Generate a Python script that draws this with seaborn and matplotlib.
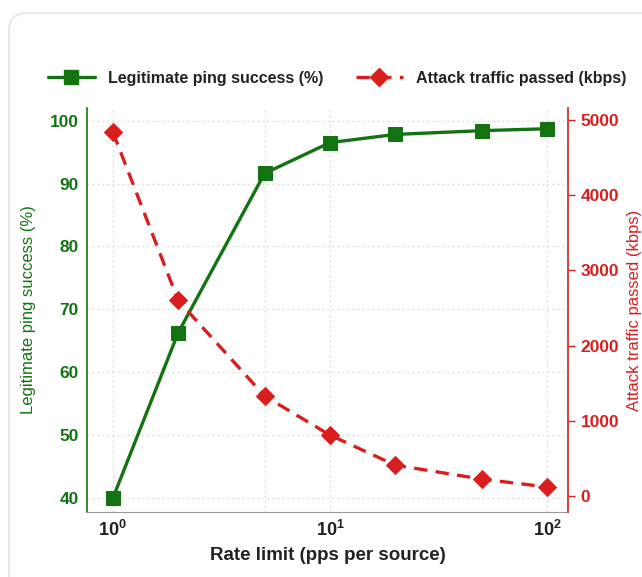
import pandas as pd
import numpy as np
import seaborn as sns
import matplotlib.pyplot as plt
from matplotlib.patches import FancyBboxPatch
from matplotlib.lines import Line2D
from matplotlib.ticker import FuncFormatter

# rate limit sweep
rate = [1, 2, 5, 10, 20, 50, 100]
ping_ok = [40.0, 66.3, 91.6, 96.5, 97.8, 98.4, 98.7]
attack_kbps = [4840, 2600, 1330, 810, 410, 225, 120]

df = pd.DataFrame({'rate': rate, 'ping': ping_ok, 'attack': attack_kbps})

GREEN = '#137313'
RED = '#d91e1e'

sns.set_style('white')
plt.rcParams['font.family'] = ['Liberation Sans', 'DejaVu Sans']
plt.rcParams['mathtext.fontset'] = 'custom'
plt.rcParams['mathtext.rm'] = 'Liberation Sans:bold'
plt.rcParams['mathtext.bf'] = 'Liberation Sans:bold'

fig = plt.figure(figsize=(6.42, 5.77), dpi=100)
card = FancyBboxPatch((9 / 642, -0.05), 1.1, 1.05 - 13 / 577,
                      boxstyle='round,pad=0,rounding_size=0.03',
                      transform=fig.transFigure, facecolor='white',
                      edgecolor='#e4e4e4', linewidth=1.2, zorder=-10)
fig.patches.append(card)

ax = fig.add_axes([87 / 642, 65 / 577, (568 - 87) / 642, (512 - 108) / 577])
ax.patch.set_alpha(0)
ax2 = ax.twinx()

sns.lineplot(data=df, x='rate', y='ping', ax=ax, color=GREEN, lw=2.4,
             marker='s', markersize=10, markeredgecolor=GREEN, zorder=3)
sns.lineplot(data=df, x='rate', y='attack', ax=ax2, color=RED, lw=2.4,
             ls=(0, (4, 2.5)), marker='D', markersize=9, markeredgecolor=RED, zorder=3)

ax.set_xscale('log')
ax.set_xlim(0.76, 125)
ax.set_ylim(37.8, 102)
ax2.set_ylim(-213, 5160)
ax.set_yticks([40, 50, 60, 70, 80, 90, 100])
ax2.set_yticks([0, 1000, 2000, 3000, 4000, 5000])
ax.set_xticks([1, 10, 100])
ax.xaxis.set_major_formatter(FuncFormatter(lambda v, p: r'$\mathbf{10^{%d}}$' % round(np.log10(v))))
ax.set_xticks([5], minor=True)
ax.xaxis.set_minor_formatter(plt.NullFormatter())

ax.grid(True, which='both', ls=(0, (1.5, 2.5)), color='#d8d8d8', lw=0.9)

ax.set_xlabel('Rate limit (pps per source)', fontsize=13.5, fontweight='bold',
              color='#222222', labelpad=5)
ax.set_ylabel('Legitimate ping success (%)', fontsize=12, color=GREEN, labelpad=10)
ax2.set_ylabel('Attack traffic passed (kbps)', fontsize=12, color=RED, labelpad=6)

ax.tick_params(axis='x', which='both', length=0, labelsize=13, labelcolor='#222222', pad=6)
ax.tick_params(axis='y', length=0, labelsize=12.5, labelcolor=GREEN, pad=6)
ax2.tick_params(axis='y', length=5, width=1, color=RED, labelsize=12.5, labelcolor=RED, pad=4)
for lab in ax.get_yticklabels() + ax2.get_yticklabels():
    lab.set_fontweight('bold')

for a in (ax, ax2):
    a.spines['top'].set_visible(False)
ax.spines['right'].set_visible(False)
ax2.spines['left'].set_visible(False)
ax2.spines['bottom'].set_visible(False)
ax.spines['left'].set_color(GREEN)
ax.spines['left'].set_linewidth(1.2)
ax2.spines['right'].set_color(RED)
ax2.spines['right'].set_linewidth(1.2)
ax.spines['bottom'].set_color('#999999')

handles = [
    Line2D([], [], color=GREEN, lw=2.4, marker='s', markersize=10),
    Line2D([], [], color=RED, lw=2.4, ls=(0, (4, 2.5)), marker='D', markersize=9),
]
leg = fig.legend(handles, ['Legitimate ping success (%)', 'Attack traffic passed (kbps)'],
                 loc='center', bbox_to_anchor=(0.525, 1 - 78 / 577), ncol=2, frameon=False,
                 handlelength=3, columnspacing=2.0, handletextpad=0.8,
                 prop={'size': 11.5, 'weight': 'bold'})
for t in leg.get_texts():
    t.set_color('#222222')

fig.savefig('out.png', dpi=100)
